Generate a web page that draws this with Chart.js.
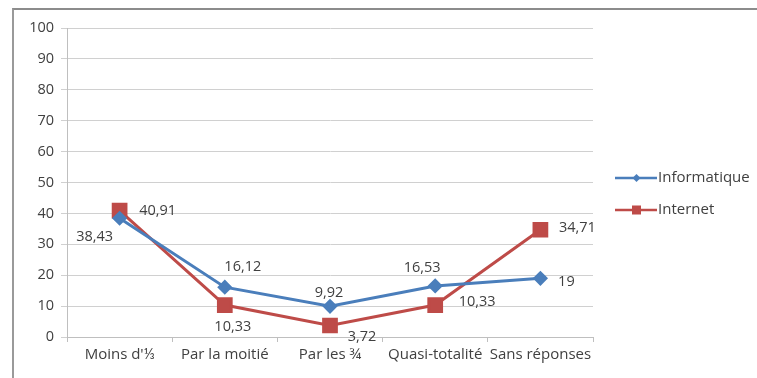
<!DOCTYPE html>
<html>
<head>
<meta charset="utf-8">
<script src="https://cdn.jsdelivr.net/npm/chart.js@4"></script>
<style>
  html, body { margin: 0; padding: 0; background: #fff; }
  #wrap { position: relative; width: 757px; height: 378px; overflow: hidden; }
  #frame { position: absolute; left: 12px; top: 8px; width: 800px; height: 400px;
           border-top: 2px solid #8c8c8c; border-left: 2px solid #9a9a9a; }
  canvas { position: absolute; left: 0; top: 0; }
</style>
</head>
<body>
<div id="wrap">
  <div id="frame"></div>
  <canvas id="chart" width="757" height="378"></canvas>
</div>
<script>
const categories = ["Moins d'⅓", 'Par la moitié', 'Par les ¾', 'Quasi-totalité', 'Sans réponses'];
const informatique = [38.43, 16.12, 9.92, 16.53, 19];
const internet = [40.91, 10.33, 3.72, 10.33, 34.71];

// label offsets (dx, dy) from each point
const infoOffsets = [[-25, 19], [18, -20], [-1, -13], [-13, -18], [26, 4]];
const interOffsets = [[38, 0], [8, 22], [32, 11], [42, -3], [37, -2]];

const FONT = '"Open Sans", Lato, sans-serif';
const fmt = v => String(v).replace('.', ',');

const valueLabels = {
  id: 'valueLabels',
  afterDatasetsDraw(chart) {
    const ctx = chart.ctx;
    ctx.save();
    ctx.font = '14.5px ' + FONT;
    ctx.fillStyle = '#404040';
    ctx.textAlign = 'center';
    ctx.textBaseline = 'middle';
    chart.data.datasets.forEach((ds, i) => {
      const offs = ds.labelOffsets;
      chart.getDatasetMeta(i).data.forEach((pt, j) => {
        ctx.fillText(fmt(ds.data[j]), pt.x + offs[j][0], pt.y + offs[j][1]);
      });
    });
    ctx.restore();
  }
};

// legend on the right with line + marker samples
const sideLegend = {
  id: 'sideLegend',
  afterDraw(chart) {
    const ctx = chart.ctx;
    ctx.save();
    ctx.font = '15px ' + FONT;
    ctx.textBaseline = 'middle';
    chart.data.datasets.forEach((ds, i) => {
      const y = 178 + i * 32;
      ctx.strokeStyle = ds.borderColor;
      ctx.lineWidth = 2.5;
      ctx.beginPath();
      ctx.moveTo(615, y);
      ctx.lineTo(657, y);
      ctx.stroke();
      ctx.fillStyle = ds.pointBackgroundColor;
      if (ds.pointStyle === 'rect') {
        ctx.fillRect(632, y - 4.5, 9, 9);
      } else {
        ctx.beginPath();
        ctx.moveTo(636.5, y - 4);
        ctx.lineTo(640.5, y);
        ctx.lineTo(636.5, y + 4);
        ctx.lineTo(632.5, y);
        ctx.closePath();
        ctx.fill();
      }
      ctx.fillStyle = '#404040';
      ctx.fillText(ds.label, 658, y);
    });
    ctx.restore();
  }
};

new Chart(document.getElementById('chart').getContext('2d'), {
  type: 'line',
  data: {
    labels: categories,
    datasets: [
      {
        label: 'Informatique',
        data: informatique,
        labelOffsets: infoOffsets,
        borderColor: '#4a7ebb',
        backgroundColor: '#4a7ebb',
        pointBackgroundColor: '#4a7ebb',
        pointBorderColor: '#4a7ebb',
        borderWidth: 3,
        pointStyle: 'rectRot',
        pointRadius: 5.5,
        tension: 0
      },
      {
        label: 'Internet',
        data: internet,
        labelOffsets: interOffsets,
        borderColor: '#be4b48',
        backgroundColor: '#be4b48',
        pointBackgroundColor: '#be4b48',
        pointBorderColor: '#be4b48',
        borderWidth: 3,
        pointStyle: 'rect',
        pointRadius: 9,
        tension: 0
      }
    ]
  },
  options: {
    responsive: false,
    animation: false,
    layout: { padding: { top: 28, right: 164, bottom: 0, left: 0 } },
    plugins: {
      legend: { display: false },
      tooltip: { enabled: false }
    },
    scales: {
      x: {
        offset: true,
        afterFit: s => { s.height = 41; },
        grid: { display: true, drawOnChartArea: false, offset: true, tickLength: 5, color: '#bfbfbf' },
        border: { color: '#bfbfbf' },
        ticks: { color: '#404040', font: { family: FONT, size: 15 }, padding: 4, maxRotation: 0, autoSkip: false }
      },
      y: {
        min: 0,
        max: 100,
        afterFit: s => { s.width = 67; },
        ticks: { stepSize: 10, color: '#404040', font: { family: FONT, size: 14.5 }, padding: 7 },
        grid: { color: '#d0d0d0', tickLength: 6 },
        border: { color: '#bfbfbf' }
      }
    }
  },
  plugins: [valueLabels, sideLegend]
});
</script>
</body>
</html>
